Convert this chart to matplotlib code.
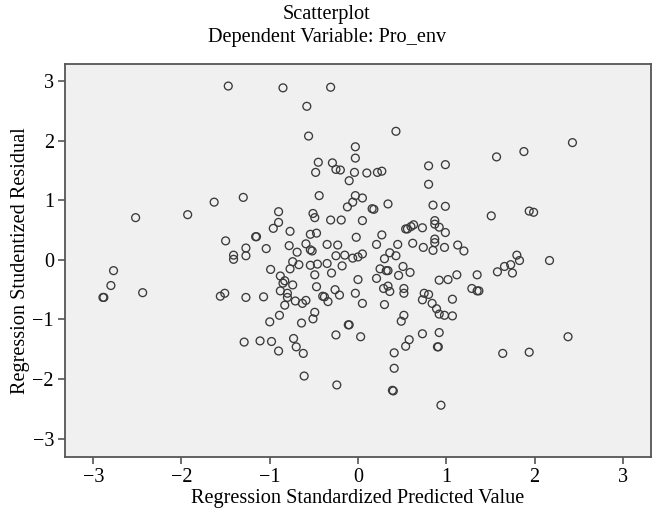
import matplotlib
matplotlib.use("Agg")
import matplotlib.pyplot as plt
import numpy as np

# standardized predicted value (x) and studentized residual (y)
pred = [
    -1.47, -0.85, -0.31, -0.58, -0.56, 0.43, -0.03, -0.03, -0.45, -0.48,
    -0.29, -0.25, -0.20, -0.04, 0.10, 0.22, 0.27, -0.10, 0.80, 0.99,
    0.80, 1.57, 1.88, 2.43,
    -1.63, -1.30, -2.52, -1.93, -1.50, -1.16, -1.15, -1.27, -1.04, -1.41,
    -1.41, -1.27, -2.77, -2.80, -2.88, -2.89, -2.44, -1.56, -1.51, -1.27,
    -1.07, -1.29, -1.11,
    -0.44, -0.03, 0.05, -0.06, -0.12, 0.16, 0.18, 0.34, 0.85, 0.99,
    -0.90, -0.51, -0.49, -0.31, -0.19, 0.05, -0.90, -0.96, -0.77, -0.54,
    -0.47, -0.02, 0.27, 0.54, 0.56, 0.60, 0.63, 0.73, 0.87, 0.87,
    0.92, 0.99, -0.78, -0.69, -0.59, -0.54, -0.52, -0.35, -0.23, 0.21,
    0.45, 0.62, 0.74, 0.87, 0.87, 0.85, 0.98, 1.13, -0.74, -0.67,
    -0.77, -0.99, -0.54, -0.46, -0.35, -0.25, -0.15, -0.18, -0.06, 0.00,
    0.05, 0.36, 0.30, 0.43, 0.25, 0.32, 0.34, 0.51, 0.59, 0.46,
    1.12, 0.92, 1.02, -0.49, -0.30, 0.00, 0.21, -0.88, -0.85, -0.83,
    -0.74, -0.88, -0.80, -0.80, -0.47, -0.26, -0.21, -0.40, -0.38, -0.34,
    -0.03, 0.05, 0.29, 0.34, 0.36, 0.52, 0.52, 0.30, 0.75, 0.80,
    0.73, 0.84, 0.89, 0.92, 0.98, 1.07, 1.07, -0.71, -0.63, -0.59,
    -0.83, -0.89, -0.49, -0.51, -1.00, -0.64, -0.11, -0.10, 0.52, 0.49,
    -0.98, -0.90, -0.73, -0.70, -0.62, -0.61, -0.25, 0.03, -0.24, 0.41,
    0.41, 0.39, 0.40, 0.54, 0.58, 0.73, 0.92, 0.90, 0.91, 0.94,
    1.64, 1.94, 2.38,
    1.51, 1.94, 1.99, 1.20, 1.80, 1.83, 1.73, 1.66, 1.58, 1.75,
    2.17, 1.35, 1.29, 1.35, 1.37,
]
resid = [
    2.92, 2.89, 2.90, 2.58, 2.08, 2.16, 1.90, 1.71, 1.64, 1.47,
    1.63, 1.52, 1.51, 1.47, 1.46, 1.47, 1.49, 1.33, 1.58, 1.60,
    1.27, 1.73, 1.82, 1.97,
    0.97, 1.05, 0.71, 0.76, 0.32, 0.39, 0.39, 0.20, 0.19, 0.08,
    0.01, 0.07, -0.18, -0.43, -0.63, -0.63, -0.55, -0.61, -0.56, -0.63,
    -0.62, -1.38, -1.36,
    1.08, 1.08, 1.04, 0.97, 0.89, 0.86, 0.85, 0.94, 0.92, 0.90,
    0.81, 0.78, 0.71, 0.67, 0.67, 0.66, 0.63, 0.53, 0.48, 0.43,
    0.45, 0.38, 0.42, 0.52, 0.52, 0.56, 0.59, 0.54, 0.66, 0.60,
    0.55, 0.46, 0.24, 0.13, 0.27, 0.17, 0.15, 0.26, 0.25, 0.26,
    0.26, 0.28, 0.21, 0.35, 0.29, 0.16, 0.21, 0.25, -0.03, -0.08,
    -0.15, -0.16, -0.09, -0.07, -0.06, 0.07, 0.08, -0.10, 0.03, 0.05,
    0.10, 0.12, 0.02, 0.07, -0.15, -0.18, -0.18, -0.11, -0.21, -0.26,
    -0.25, -0.34, -0.33, -0.25, -0.22, -0.33, -0.31, -0.27, -0.39, -0.35,
    -0.42, -0.52, -0.56, -0.63, -0.45, -0.50, -0.59, -0.61, -0.62, -0.70,
    -0.56, -0.73, -0.48, -0.44, -0.53, -0.48, -0.56, -0.75, -0.56, -0.58,
    -0.67, -0.73, -0.82, -0.91, -0.93, -0.94, -0.66, -0.69, -0.73, -0.68,
    -0.76, -0.93, -0.88, -0.99, -1.04, -1.06, -1.09, -1.09, -0.93, -1.03,
    -1.37, -1.53, -1.32, -1.46, -1.57, -1.95, -1.26, -1.29, -2.10, -1.56,
    -1.82, -2.19, -2.20, -1.45, -1.34, -1.24, -1.22, -1.46, -1.46, -2.44,
    -1.57, -1.55, -1.29,
    0.74, 0.82, 0.80, 0.15, 0.08, -0.01, -0.08, -0.11, -0.20, -0.22,
    -0.01, -0.25, -0.48, -0.52, -0.52,
]

fig = plt.figure(figsize=(6.54, 5.15), dpi=100)
ax = fig.add_axes([0.0994, 0.1126, 0.8960, 0.7631])
ax.set_facecolor("#f0f0f0")

ax.scatter(pred, resid, s=32, facecolors="none", edgecolors="#3a3a3a",
           linewidths=0.95, zorder=3)

ax.set_xlim(-3.32, 3.32)
ax.set_ylim(-3.31, 3.29)
ax.set_xticks(np.arange(-3, 4))
ax.set_yticks(np.arange(-3, 4))
ax.set_xticklabels(["\u22123", "\u22122", "\u22121", "0", "1", "2", "3"])
ax.set_yticklabels(["\u22123", "\u22122", "\u22121", "0", "1", "2", "3"])

for sp in ax.spines.values():
    sp.set_color("#555555")
    sp.set_linewidth(1.3)
ax.tick_params(direction="out", length=5, width=1.2, color="#555555",
               labelsize=14.5, pad=3)
for lbl in ax.get_xticklabels() + ax.get_yticklabels():
    lbl.set_family("Liberation Serif")

font = dict(family="Liberation Serif", size=14.6)
ax.set_xlabel("Regression Standardized Predicted Value", labelpad=1, **font)
ax.set_ylabel("Regression Studentized Residual", labelpad=2, **font)
fig.text(0.5, 0.99, "Scatterplot", ha="center", va="top", **font)
fig.text(0.5, 0.945, "Dependent Variable: Pro_env", ha="center", va="top", **font)

fig.savefig("out.png", dpi=100, facecolor="white")
